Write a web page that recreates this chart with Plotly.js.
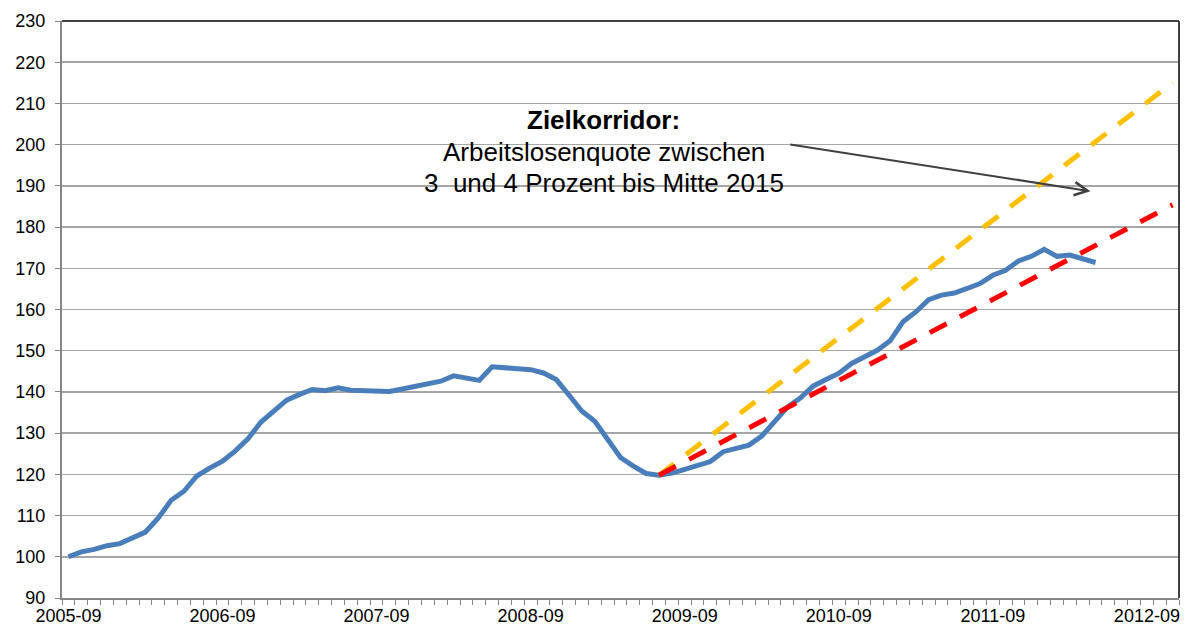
<!DOCTYPE html>
<html>
<head>
<meta charset="utf-8">
<script src="https://cdn.plot.ly/plotly-3.0.1.min.js"></script>
<style>html,body{margin:0;padding:0;background:#fff;} #chart{width:1189px;height:630px;}</style>
</head>
<body>
<div id="chart"></div>
<script>
// Monthly categories 2005-09 .. 2012-11
var months = [
  '2005-09','2005-10','2005-11','2005-12',
  '2006-01','2006-02','2006-03','2006-04','2006-05','2006-06','2006-07','2006-08','2006-09','2006-10','2006-11','2006-12',
  '2007-01','2007-02','2007-03','2007-04','2007-05','2007-06','2007-07','2007-08','2007-09','2007-10','2007-11','2007-12',
  '2008-01','2008-02','2008-03','2008-04','2008-05','2008-06','2008-07','2008-08','2008-09','2008-10','2008-11','2008-12',
  '2009-01','2009-02','2009-03','2009-04','2009-05','2009-06','2009-07','2009-08','2009-09','2009-10','2009-11','2009-12',
  '2010-01','2010-02','2010-03','2010-04','2010-05','2010-06','2010-07','2010-08','2010-09','2010-10','2010-11','2010-12',
  '2011-01','2011-02','2011-03','2011-04','2011-05','2011-06','2011-07','2011-08','2011-09','2011-10','2011-11','2011-12',
  '2012-01','2012-02','2012-03','2012-04','2012-05','2012-06','2012-07','2012-08','2012-09','2012-10','2012-11'
];
var labelMonths = ['2005-09','2006-09','2007-09','2008-09','2009-09','2010-09','2011-09','2012-09'];

// Index series (2005-09 = 100), 2005-09 .. 2012-05
var indexValues = [
  100.0,101.2,101.8,102.7,103.2,104.5,106.0,109.4,113.7,115.9,119.6,121.5,
  123.2,125.7,128.7,132.7,135.4,138.0,139.4,140.6,140.3,141.0,140.4,140.4,
  140.1,140.1,140.7,141.4,141.8,142.6,143.9,143.4,142.8,146.1,145.8,145.7,
  145.4,144.6,143.0,139.2,135.3,132.9,128.7,124.1,122.0,120.2,119.8,120.3,
  121.2,122.3,123.1,125.5,126.2,127.1,129.3,132.8,136.3,138.5,141.4,143.0,
  144.5,146.9,148.5,150.1,152.4,157.0,159.4,162.4,163.5,164.0,165.1,166.3,
  168.3,169.5,171.8,172.9,174.6,172.9,173.2,172.4,171.4
];
var indexMonths = months.slice(0, indexValues.length);

// Target corridor lines
var corridorMonths = ['2009-07', '2012-11'];
var upperCorridor = [119.8, 215.0];
var lowerCorridor = [119.8, 185.4];

var tickText = months.map(function(m){ return labelMonths.indexOf(m) >= 0 ? m : ''; });

var FONT = 'Liberation Sans, Arial, sans-serif';

var traces = [
  {x: indexMonths, y: indexValues, type: 'scatter', mode: 'lines',
   line: {color: '#4A7EBB', width: 5}, hoverinfo: 'x+y'},
  {x: corridorMonths, y: upperCorridor, type: 'scatter', mode: 'lines',
   line: {color: '#FFC000', width: 5, dash: '19px,15px'}},
  {x: corridorMonths, y: lowerCorridor, type: 'scatter', mode: 'lines',
   line: {color: '#FF0000', width: 5, dash: '19px,15px'}}
];

var layout = {
  width: 1189, height: 630,
  margin: {l: 62, r: 10, t: 21, b: 32, pad: 0},
  paper_bgcolor: '#ffffff', plot_bgcolor: '#ffffff',
  showlegend: false,
  font: {family: FONT, size: 18, color: '#000'},
  xaxis: {
    type: 'category',
    categoryorder: 'array', categoryarray: months,
    range: [-0.5, months.length - 0.5],
    tickmode: 'array', tickvals: months, ticktext: tickText,
    tickson: 'boundaries',
    ticks: 'outside', ticklen: 5, tickcolor: '#868686', tickwidth: 1,
    showgrid: false, zeroline: false,
    showline: true, linecolor: '#868686', linewidth: 2,
    tickfont: {family: FONT, size: 18, color: '#000'},
    tickangle: 0, automargin: false
  },
  yaxis: {
    range: [90, 230], tickmode: 'linear', tick0: 90, dtick: 10,
    ticks: 'outside', ticklen: 5, tickcolor: '#868686', tickwidth: 1,
    showgrid: true, gridcolor: '#A6A6A6', gridwidth: 1.5,
    zeroline: false,
    showline: true, linecolor: '#868686', linewidth: 2,
    tickfont: {family: FONT, size: 18, color: '#000'},
    ticklabelstandoff: 6, automargin: false
  },
  shapes: [
    {type: 'line', xref: 'paper', yref: 'paper', x0: 0, x1: 1, y0: 1, y1: 1,
     line: {color: '#000', width: 1.5}},
    {type: 'line', xref: 'paper', yref: 'paper', x0: 1, x1: 1, y0: 0, y1: 1,
     line: {color: '#404040', width: 2}}
  ],
  annotations: [
    {x: 41.7, y: 205.9, xref: 'x', yref: 'y', text: '<b>Zielkorridor:</b>', showarrow: false,
     xanchor: 'center', yanchor: 'middle', font: {family: FONT, size: 26, color: '#000'}},
    {x: 41.7, y: 198.2, xref: 'x', yref: 'y', text: 'Arbeitslosenquote zwischen', showarrow: false,
     xanchor: 'center', yanchor: 'middle', font: {family: FONT, size: 26, color: '#000'}},
    {x: 41.7, y: 190.6, xref: 'x', yref: 'y', text: '3  und 4 Prozent bis Mitte 2015', showarrow: false,
     xanchor: 'center', yanchor: 'middle', font: {family: FONT, size: 26, color: '#000'}},
    {x: 79.6, y: 188.7, xref: 'x', yref: 'y', ax: 56.1, ay: 200.1, axref: 'x', ayref: 'y',
     text: '', showarrow: true, arrowhead: 5, arrowsize: 1.3, arrowwidth: 2, arrowcolor: '#404040',
     standoff: 0, startstandoff: 0}
  ]
};

Plotly.newPlot('chart', traces, layout, {displayModeBar: false, staticPlot: true});
</script>
</body>
</html>
